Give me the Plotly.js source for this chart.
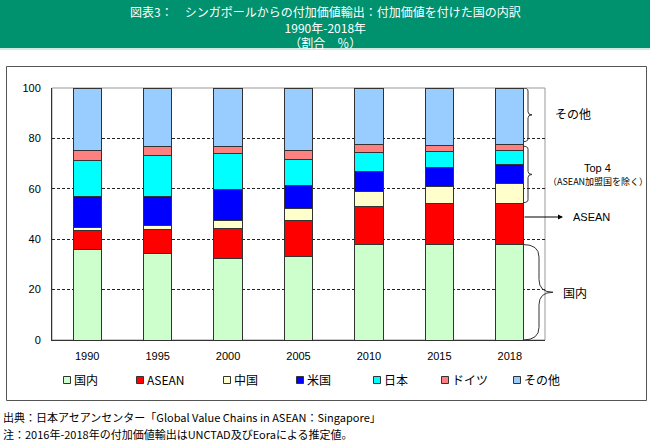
<!DOCTYPE html>
<html>
<head>
<meta charset="utf-8">
<script src="https://cdn.plot.ly/plotly-3.0.1.min.js"></script>
<style>html,body{margin:0;padding:0;background:#fff;}#chart{width:650px;height:444px;}</style>
</head>
<body>
<div id="chart"></div>
<script>
// ---- data (percent shares) ----
const years = ['1990', '1995', '2000', '2005', '2010', '2015', '2018'];
const seriesNames = ['国内', 'ASEAN', '中国', '米国', '日本', 'ドイツ', 'その他'];
const domestic = [35.9, 34.4, 32.5, 33.1, 37.9, 37.9, 37.9];
const asean    = [7.4, 9.3, 11.9, 14.5, 14.9, 16.4, 16.4];
const china    = [1.5, 1.7, 3.0, 4.4, 6.1, 6.8, 7.7];
const usa      = [12.0, 11.4, 12.5, 9.3, 7.8, 7.5, 7.5];
const japan    = [14.5, 16.4, 14.0, 10.3, 7.6, 6.1, 5.6];
const germany  = [3.9, 3.5, 2.8, 3.6, 3.2, 2.3, 2.4];
const others   = [24.8, 23.3, 23.3, 24.8, 22.5, 23.0, 22.5];
const yTicks = [0, 20, 40, 60, 80, 100];

const titleLines = ['図表3：　シンガポールからの付加価値輸出：付加価値を付けた国の内訳', '1990年-2018年', '（割合　％）'];
const notes = ['出典：日本アセアンセンター「Global Value Chains in ASEAN：Singapore」', '注：2016年-2018年の付加価値輸出はUNCTAD及びEoraによる推定値。'];

// ---- style ----
const colors = ['#CCFFCC', '#FF0000', '#FFFFCC', '#0000FF', '#00FFFF', '#FF8080', '#99CCFF'];
const allSeries = [domestic, asean, china, usa, japan, germany, others];
const JP = '"Noto Sans CJK JP", "Noto Sans", sans-serif';
const LAT = '"Liberation Sans", Arial, sans-serif';

const W = 650, H = 444, ML = 52, MR = 105, MT = 88, MB = 104;
const PW = W - ML - MR, PH = H - MT - MB;
const px = p => (p - ML) / PW;           // pixel x -> paper x
const py = p => (H - MB - p) / PH;       // pixel y -> paper y

const traces = allSeries.map((vals, i) => ({
  type: 'bar', x: years, y: vals, name: seriesNames[i],
  marker: {color: colors[i], line: {color: '#333', width: 1}},
  showlegend: false, hoverinfo: 'skip'
}));

const shapes = [];
const annotations = [];

// title band
shapes.push({type: 'rect', xref: 'paper', yref: 'paper', x0: px(0), x1: px(W), y0: py(48), y1: py(-2), fillcolor: '#00916E', line: {width: 0}, layer: 'below'});
shapes.push({type: 'line', xref: 'paper', yref: 'paper', x0: px(0), x1: px(W), y0: py(49), y1: py(49), line: {color: '#9ED8C8', width: 1}});
annotations.push({xref: 'paper', yref: 'paper', x: px(325), y: py(27), text: titleLines.join('<br>'), showarrow: false, xanchor: 'center', yanchor: 'middle', align: 'center', font: {family: JP, size: 12, color: '#fff'}});

// outer frame
shapes.push({type: 'rect', xref: 'paper', yref: 'paper', x0: px(6.5), x1: px(646.5), y0: py(400.5), y1: py(66.5), line: {color: '#555', width: 1}});
// plot border (top/right gray)
shapes.push({type: 'rect', xref: 'paper', yref: 'paper', x0: 0, x1: 1, y0: 0, y1: 1, line: {color: '#999', width: 1}, layer: 'below'});

// legend (manual)
const legX = [67, 140, 227, 300, 377, 445, 517];
seriesNames.forEach((n, i) => {
  shapes.push({type: 'rect', xref: 'paper', yref: 'paper', x0: px(legX[i] - 3.5), x1: px(legX[i] + 3.5), y0: py(383.5), y1: py(376.5), fillcolor: colors[i], line: {color: '#333', width: 1}});
  annotations.push({xref: 'paper', yref: 'paper', x: px(legX[i] + 5), y: py(380), text: n, showarrow: false, xanchor: 'left', yanchor: 'middle', font: {family: JP, size: 12, color: '#000'}});
});

// notes
[417, 434].forEach((yy, i) => annotations.push({xref: 'paper', yref: 'paper', x: px(1), y: py(yy), text: notes[i], showarrow: false, xanchor: 'left', yanchor: 'middle', font: {family: JP, size: 11, color: '#000'}}));

// braces based on last year's stack
const L = years.length - 1;
const cumD = domestic[L];
const cumA = cumD + asean[L];
const cumT4 = cumA + china[L] + usa[L] + japan[L] + germany[L];
function brace(y0, y1, xa, xb, xt, r) {
  const mid = (y0 + y1) / 2;
  return `M ${xa},${y1} Q ${xb},${y1} ${xb},${y1 - r} L ${xb},${mid + r} Q ${xb},${mid} ${xt},${mid} ` +
         `M ${xt},${mid} Q ${xb},${mid} ${xb},${mid - r} L ${xb},${y0 + r} Q ${xb},${y0} ${xa},${y0}`;
}
shapes.push({type: 'path', xref: 'paper', yref: 'y', path: brace(cumT4 + 1.2, 100, px(523), px(528), px(532), 1.2), line: {color: '#333', width: 1}});
shapes.push({type: 'path', xref: 'paper', yref: 'y', path: brace(cumA + 0.2, cumT4 - 0.6, px(523), px(528), px(532), 1.2), line: {color: '#333', width: 1}});
shapes.push({type: 'path', xref: 'paper', yref: 'y', path: brace(0, cumD, px(523), px(539), px(553), 5), line: {color: '#333', width: 1}});

annotations.push({xref: 'paper', yref: 'y', x: px(553), y: (cumT4 + 100) / 2 + 1, text: 'その他', showarrow: false, xanchor: 'left', yanchor: 'middle', font: {family: JP, size: 12, color: '#000'}});
annotations.push({xref: 'paper', yref: 'paper', x: px(597), y: py(168), text: 'Top 4', showarrow: false, xanchor: 'center', yanchor: 'middle', font: {family: LAT, size: 11, color: '#000'}});
annotations.push({xref: 'paper', yref: 'paper', x: px(598), y: py(181), text: '（ASEAN加盟国を除く）', showarrow: false, xanchor: 'center', yanchor: 'middle', font: {family: JP, size: 9, color: '#000'}});
annotations.push({xref: 'paper', yref: 'paper', x: px(563), y: py(217), ax: -40, ay: 0, text: '', showarrow: true, arrowhead: 2, arrowsize: 1, arrowwidth: 1, arrowcolor: '#000'});
annotations.push({xref: 'paper', yref: 'paper', x: px(571), y: py(217), text: 'ASEAN', showarrow: false, xanchor: 'left', yanchor: 'middle', font: {family: LAT, size: 11, color: '#000'}});
annotations.push({xref: 'paper', yref: 'y', x: px(561), y: cumD / 2, text: '国内', showarrow: false, xanchor: 'left', yanchor: 'middle', font: {family: JP, size: 12, color: '#000'}});

const layout = {
  width: W, height: H,
  margin: {l: ML, r: MR, t: MT, b: MB, pad: 0},
  paper_bgcolor: '#fff', plot_bgcolor: '#fff',
  barmode: 'stack', bargap: 0.6,
  showlegend: false,
  xaxis: {type: 'category', showline: true, linecolor: '#333', linewidth: 1, ticks: '', showgrid: false,
          tickfont: {family: LAT, size: 11, color: '#000'}, ticklabelstandoff: 6, fixedrange: true},
  yaxis: {range: [0, 100], tickvals: yTicks, showline: true, linecolor: '#333', linewidth: 1, ticks: '',
          showgrid: true, gridcolor: '#222', gridwidth: 1, griddash: '3px,2px', zeroline: false,
          tickfont: {family: LAT, size: 11, color: '#000'}, ticklabelstandoff: 8, fixedrange: true},
  shapes: shapes,
  annotations: annotations
};

Plotly.newPlot('chart', traces, layout, {displayModeBar: false, staticPlot: true});
</script>
</body>
</html>
